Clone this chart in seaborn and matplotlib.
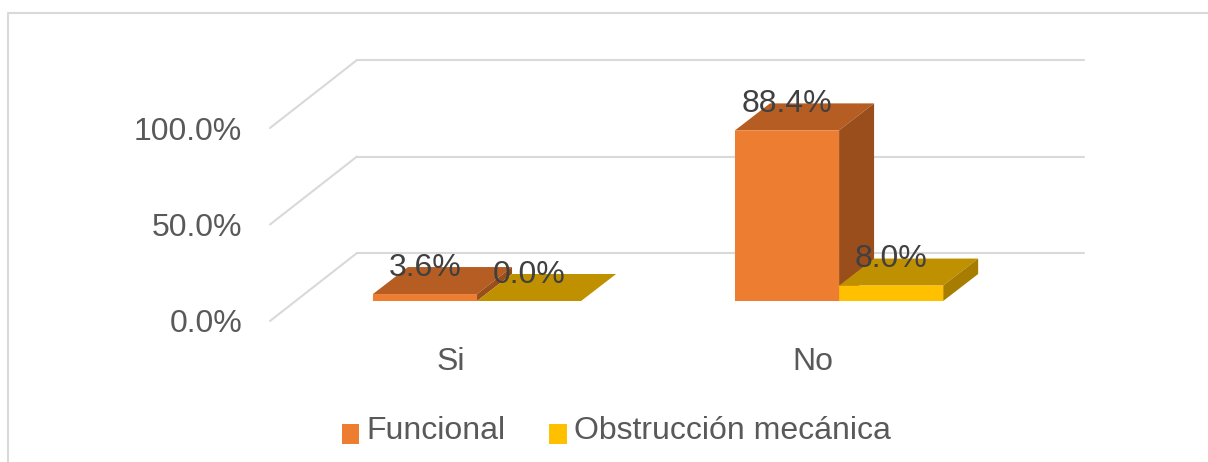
import matplotlib
matplotlib.use("Agg")
import matplotlib.pyplot as plt
import pandas as pd
import seaborn as sns
from matplotlib.lines import Line2D
from matplotlib.patches import Polygon

categorias = ["Si", "No"]
funcional = [3.6, 88.4]
obstruccion = [0.0, 8.0]
series = ["Funcional", "Obstrucción mecánica"]
ticks = [0, 50, 100]

sns.set_theme(style="white")
plt.rcParams["font.family"] = ["Liberation Sans", "DejaVu Sans"]

W, H = 1208, 462
GRIS = "#D9D9D9"
TEXTO = "#595959"
ETIQUETA = "#404040"
FS = 23

# colores de cara frontal, superior y lateral
caras = [("#ED7D31", "#B55D22", "#9A4E1B"), ("#FFC000", "#BF9000", "#A67D00")]

df = pd.DataFrame({"resp": categorias * 2,
                   "tipo": [series[0]] * 2 + [series[1]] * 2,
                   "valor": funcional + obstruccion})

fig = plt.figure(figsize=(W / 100, H / 100), dpi=100, facecolor="white")


def plano(dx, dy, z):
    # mismo plano de ejes desplazado en pixeles para simular profundidad
    a = fig.add_axes([(296 + dx) / W, (H - 301 - dy) / H, 727 / W, 193 / H], zorder=z)
    a.patch.set_visible(False)
    for s in a.spines.values():
        s.set_visible(False)
    return a


ax_fondo = plano(61, -48, 1)
ax = plano(0, 0, 2)
ax_frente = plano(-26, 20, 3)

sns.barplot(data=df, x="resp", y="valor", hue="tipo", order=categorias,
            palette=[caras[0][0], caras[1][0]], width=0.575, gap=0, saturation=1,
            linewidth=0, ax=ax)

xlim = (-0.5, 1.508)
ylim = (0, 100)
for a in (ax_fondo, ax, ax_frente):
    a.set_xlim(xlim)
    a.set_ylim(ylim)
    a.set_xlabel("")
    a.set_ylabel("")

# escala pixel -> datos
px = (xlim[1] - xlim[0]) / 727
py = (ylim[1] - ylim[0]) / 193

ax.set_xticks([])
ax.set_yticks([])

# pared del fondo
ax_fondo.set_xticks([])
ax_fondo.set_yticks(ticks)
ax_fondo.set_yticklabels([])
ax_fondo.tick_params(length=0)
ax_fondo.grid(True, axis="y", color=GRIS, lw=1.5)
for l in ax_fondo.get_ygridlines():
    l.set_clip_on(False)

# pared lateral
for v in ticks:
    ax.plot([xlim[0] - 26 * px, xlim[0] + 61 * px], [v - 20 * py, v + 48 * py],
            color=GRIS, lw=1.5, clip_on=False, zorder=0)

# caras 3D de las barras
prof_x = 35 * px
prof_y = 27 * py
for i, cont in enumerate(ax.containers):
    for b in cont:
        x0, x1 = b.get_x(), b.get_x() + b.get_width()
        y1 = b.get_height()
        ax.add_patch(Polygon([(x0, y1), (x1, y1), (x1 + prof_x, y1 + prof_y), (x0 + prof_x, y1 + prof_y)],
                             fc=caras[i][1], lw=0, clip_on=False, zorder=2 + i))
        ax.add_patch(Polygon([(x1, 0), (x1, y1), (x1 + prof_x, y1 + prof_y), (x1 + prof_x, prof_y)],
                             fc=caras[i][2], lw=0, clip_on=False, zorder=2 + i))
        b.set_zorder(2.5 + i)
        b.set_clip_on(False)
        b.set_snap(False)

for cont in ax.containers:
    for t in ax.bar_label(cont, fmt="%.1f%%", padding=8, fontsize=FS, color=ETIQUETA):
        t.set_zorder(10)

# etiquetas de ejes en el plano frontal
ax_frente.set_xticks([0, 1])
ax_frente.set_xticklabels(categorias, fontsize=FS, color=TEXTO)
ax_frente.set_yticks(ticks)
ax_frente.set_yticklabels([f"{v:.1f}%" for v in ticks], fontsize=FS, color=TEXTO)
ax_frente.tick_params(axis="y", length=0, pad=20)
ax_frente.tick_params(axis="x", length=0, pad=19)

sns.move_legend(ax, "center", bbox_to_anchor=(616 / W, (H - 431) / H),
                bbox_transform=fig.transFigure, ncol=2, title=None, frameon=False,
                fontsize=FS, labelcolor=TEXTO, handlelength=0.54, handleheight=0.6,
                handletextpad=0.25, columnspacing=1.35, borderpad=0)
# los cuadros van algo mas abajo que en la leyenda por defecto
for h in ax.get_legend().legend_handles:
    h.set_x(h.get_x() + 0.5)
    h.set_y(h.get_y() - 4.5)

# marco del grafico (arriba e izquierda)
fig.add_artist(Line2D([8 / W, 8 / W, 1], [0, (H - 13) / H, (H - 13) / H],
                      color=GRIS, lw=1.5, transform=fig.transFigure))

fig.savefig("out.png", dpi=100, facecolor="white")
